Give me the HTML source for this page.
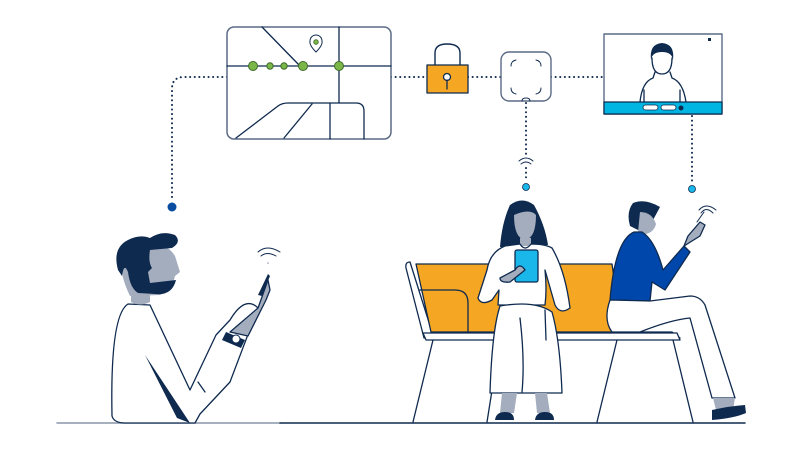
<!DOCTYPE html>
<html><head><meta charset="utf-8"><style>html,body{margin:0;padding:0;background:#fff}svg{display:block}</style></head>
<body>
<svg width="802" height="452" viewBox="0 0 802 452" xmlns="http://www.w3.org/2000/svg" fill="none" stroke="#0f2a4f" stroke-width="1.3" stroke-linecap="round" stroke-linejoin="round">
<!-- dotted connectors -->
<g stroke="#0f2a4f" stroke-width="2" stroke-dasharray="0.1 4.5">
<path d="M227 77 H184 Q172 77 172 89 V200"/>
<path d="M391 77 H427"/><path d="M468 77 H501"/><path d="M551 77 H604"/>
<path d="M526 103 V155"/><path d="M526 168 V180"/>
<path d="M692 116 V183"/>
</g>
<circle cx="172" cy="207" r="4.5" fill="#0a4da0" stroke="none"/>
<circle cx="526" cy="187" r="3.5" fill="#1ab7ea" stroke="#0f2a4f" stroke-width="0.8"/>
<circle cx="692" cy="189" r="3.5" fill="#1ab7ea" stroke="#0f2a4f" stroke-width="0.8"/>
<!-- wifi reader -->
<path d="M519 161 Q526 155 533 161 M521 164 Q526 160 531 164" stroke-width="1"/>
<!-- map -->
<rect x="227" y="27" width="164" height="112" rx="7" fill="#fff" stroke="#5a6b85" stroke-width="1.5"/>
<path d="M227 66 H391 M339 27 V103 M262 27 L300 66"/>
<path d="M236 138 L278 106 Q282 103 288 103 H356 Q364 103 364 111 V139 M284 138 L312 104 M330 103 V139"/>
<g fill="#7ab648" stroke="#3d6b2a" stroke-width="1"><circle cx="253" cy="66" r="4.5"/><circle cx="270" cy="66" r="3.2"/><circle cx="284" cy="66" r="3.2"/><circle cx="303" cy="66" r="4.5"/><circle cx="339" cy="66" r="4.5"/></g>
<path d="M316 52 Q309 45 310 41 A6 6 0 0 1 322 41 Q323 45 316 52 Z" fill="#fff" stroke-width="1"/>
<circle cx="316" cy="42" r="2.3" fill="#7ab648" stroke="#3d6b2a" stroke-width="0.8"/>
<!-- lock -->
<path d="M435 65 V53 Q435 44 447 44 Q460 44 460 53 V65" stroke-width="1.4"/>
<rect x="427" y="65" width="41" height="28" fill="#f5a623" stroke-width="1.3"/>
<circle cx="447" cy="77" r="3.5" fill="#fff"/><path d="M447 80 V89"/>
<!-- reader -->
<rect x="501" y="52" width="50" height="49" rx="8" fill="#fff" stroke="#5a6b85" stroke-width="1.4"/>
<path d="M511 66 Q511 61 516 60 M541 66 Q541 61 536 60 M511 88 Q511 93 516 94 M541 88 Q541 93 536 94" stroke-width="1"/>
<path d="M522 101 Q522 98 526 98 Q530 98 530 101" stroke-width="1"/>
<!-- screen -->
<rect x="604" y="34" width="118" height="80" fill="#fff" stroke="#5a6b85" stroke-width="1.4"/>
<rect x="604" y="102" width="118" height="12" fill="#00b5e2" stroke="#0f2a4f" stroke-width="1.2"/>
<rect x="643" y="105" width="15" height="5" rx="2.5" fill="#fff" stroke-width="0.8"/>
<rect x="661" y="105" width="15" height="5" rx="2.5" fill="#fff" stroke-width="0.8"/>
<circle cx="681" cy="108" r="2.5" fill="#0f2a4f" stroke="none"/>
<rect x="708" y="38" width="3" height="3" fill="#0f2a4f" stroke="none"/>
<path d="M640 102 Q642 82 653 78 L655 72 M670 72 L672 78 Q683 82 686 102 M644 102 V90 M680 102 V90"/>
<path d="M652 58 Q652 74 662 74 Q672 74 672 58" fill="#fff"/>
<path d="M651 60 Q649 44 662 43 Q675 44 673 60 Q672 52 662 52 Q652 52 651 60Z" fill="#0f2a4f" stroke="none"/>
<!-- ground -->
<path d="M57 423 H280" stroke="#8a96aa" stroke-width="1.5"/>
<path d="M280 423 H745" stroke-width="1.5"/>
<!-- bench -->
<path d="M410 262 Q405 262 406 268 L424 338 H680 L672 332 H432 Z" fill="#fff"/>
<path d="M416 264 H612 L622 332 H431 Z" fill="#f5a623"/>
<path d="M420 290 H455 Q468 290 468 303 V332" />
<path d="M423 333 H677 L680 340 H426 Z" fill="#fff"/>
<path d="M433 340 L413 422 M500 340 L487 422 M617 340 L597 422 M673 340 L693 422"/>
<!-- woman -->
<path d="M510 205 Q522 196 534 205 Q545 225 548 245 L500 247 Q502 222 510 205Z" fill="#0f2a4f" stroke="none"/>
<path d="M514 215 Q514 238 525 240 Q536 238 536 215 Q530 208 514 215Z" fill="#a4adbd" stroke="none"/>
<path d="M520 238 V246 H531 V238" fill="#a4adbd" stroke="none"/>
<path d="M505 246 Q490 252 487 270 L478 298 Q481 306 492 300 L499 290 L498 305 L545 305 Q547 290 545 270 L555 305 Q560 315 570 308 Q565 270 552 248 Q545 244 531 244 Q525 252 520 244 Z" fill="#fff"/>
<rect x="515" y="250" width="23" height="32" rx="2" fill="#1ab7ea"/>
<path d="M515 270 Q520 262 525 270 L510 282 Q500 283 500 278 Z" fill="#a4adbd"/>
<path d="M500 306 Q492 330 490 393 H562 Q560 340 552 312 Q535 300 500 306Z" fill="#fff"/>
<path d="M520 318 Q525 360 522 392 M545 310 L546 340"/>
<path d="M502 393 L500 413 H514 L517 393 M535 393 L537 413 H550 L547 393" fill="#a4adbd" stroke="none"/>
<path d="M495 420 Q496 412 505 412 Q514 412 514 420Z M535 420 Q536 412 545 412 Q554 412 554 420Z" fill="#0f2a4f" stroke="none"/>
<!-- man right -->
<path d="M633 203 Q645 198 660 207 L652 222 Q648 232 642 232 L630 226 Q626 212 633 203Z" fill="#0f2a4f" stroke="none"/>
<path d="M640 212 Q652 212 656 224 Q654 232 646 234 L638 232 Z" fill="#a4adbd" stroke="none"/>
<path d="M634 232 Q615 240 610 300 L650 301 L652 282 L665 290 L690 252 L684 246 L663 270 Q655 240 642 232Z" fill="#0047ab"/>
<path d="M684 246 L700 236 L705 225 L700 222 L688 236 Z" fill="#a4adbd"/>
<path d="M610 300 Q603 320 612 332 H640 Q670 320 690 318 L712 398 H735 L705 305 Q700 296 690 296 L650 301Z" fill="#fff"/>
<path d="M713 398 L716 410 H733 L735 398 Z" fill="#a4adbd" stroke="none"/>
<path d="M712 410 Q730 406 745 405 L746 413 Q735 418 712 420Z" fill="#0f2a4f" stroke="none"/>
<path d="M697 222 L704 212 M701 213 Q706 206 713 213 M699 210 Q706 202 716 210" stroke-width="1"/>
<!-- man left -->
<path d="M128 304 Q110 315 112 416 Q114 423 125 423 H195 L200 414 L230 382 L258 308 Q245 295 230 320 L216 335 L190 390 L150 305 Z" fill="#fff"/>
<path d="M145 355 L177 418 L190 423 Z" fill="#0f2a4f" stroke="none"/>
<path d="M198 382 L205 392"/>
<path d="M258 308 L268 280 L270 290 L266 300 L248 336 L230 332 Z" fill="#a4adbd"/>
<path d="M226 332 L245 340 L241 348 L222 340Z" fill="#0f2a4f" stroke="none"/>
<circle cx="236" cy="339" r="4" fill="#fff" stroke-width="1"/>
<path d="M258 295 L268 274 L270 276 L262 296Z" fill="#0f2a4f" stroke="none"/>
<path d="M258 252 Q267 244 280 252 M261 256 Q267 251 276 256 M268 263 v0.1" stroke-width="1"/>
<path d="M131 296 V302 Q140 307 150 302 V293 Z" fill="#a4adbd" stroke="none"/>
<path d="M148 248 Q165 240 175 256 L180 272 L175 276 Q172 290 160 295 L130 296 Q122 280 120 262 Q126 245 148 248Z" fill="#a4adbd" stroke="none"/>
<path d="M118 270 Q112 248 128 240 Q140 234 150 238 Q162 230 175 235 Q182 242 172 248 L150 250 Q148 262 152 268 L148 272 L150 283 L176 280 Q172 296 155 294 L138 293 Q130 288 128 272 Q124 262 122 276Z" fill="#0f2a4f" stroke="none"/>
</svg>
</body></html>
